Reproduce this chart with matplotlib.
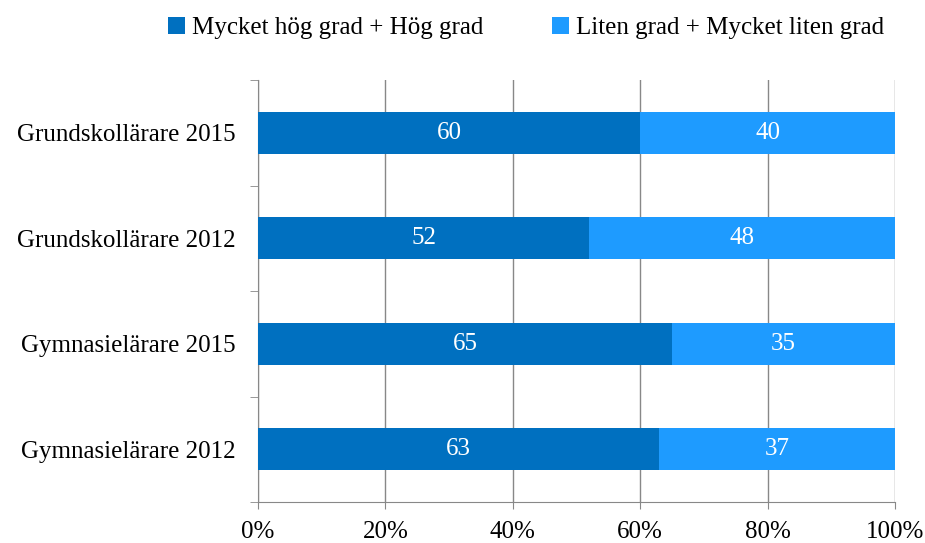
import matplotlib
matplotlib.use("Agg")
import matplotlib.pyplot as plt
import numpy as np

categories = ["Grundskollärare 2015", "Grundskollärare 2012", "Gymnasielärare 2015", "Gymnasielärare 2012"]
high = [60, 52, 65, 63]
low = [40, 48, 35, 37]
series_names = ["Mycket hög grad + Hög grad", "Liten grad + Mycket liten grad"]
xtick_labels = ["0%", "20%", "40%", "60%", "80%", "100%"]

plt.rcParams['font.family'] = ['Liberation Serif', 'DejaVu Serif']
FS = 18

fig = plt.figure(figsize=(9.25, 5.43), dpi=100)
ax = fig.add_axes([258/925, 1-502/543, (895-258)/925, (502-80)/543])

c1 = "#0070C0"
c2 = "#1E9BFF"
y = np.arange(len(categories))
b1 = ax.barh(y, high, height=0.4, color=c1, label=series_names[0], zorder=3)
b2 = ax.barh(y, low, left=high, height=0.4, color=c2, label=series_names[1], zorder=3)
for vals, lefts in ((high, [0]*4), (low, high)):
    for yi, v, l in zip(y, vals, lefts):
        ax.text(l + v/2, yi, str(v), ha="center", va="center", color="white", fontsize=FS, zorder=4)

ax.set_xlim(0, 100)
ax.set_ylim(len(categories)-0.5, -0.5)
ax.set_xticks(np.linspace(0, 100, 6))
ax.set_xticklabels(xtick_labels, fontsize=FS)
ax.set_yticks(y)
ax.set_yticklabels(categories, fontsize=FS)
ax.tick_params(axis="y", length=0, pad=16)
ax.set_yticks(np.arange(-0.5, len(categories), 1), minor=True)
ax.tick_params(axis="y", which="minor", length=6, color="#888888", direction="out")
ax.tick_params(axis="x", length=5, color="#888888", direction="out", pad=9)
ax.xaxis.grid(True, color="#888888", linewidth=1, zorder=0)
for s in ("top", "right"):
    ax.spines[s].set_visible(False)
for s in ("left", "bottom"):
    ax.spines[s].set_color("#888888")

fig.legend(handles=[b1, b2], labels=series_names, loc="center", bbox_to_anchor=(0.569, 1-28/543),
           ncol=2, frameon=False, fontsize=FS, handlelength=0.65, handleheight=0.65,
           handletextpad=0.3, columnspacing=2.75)

fig.savefig("out.png", dpi=100)
